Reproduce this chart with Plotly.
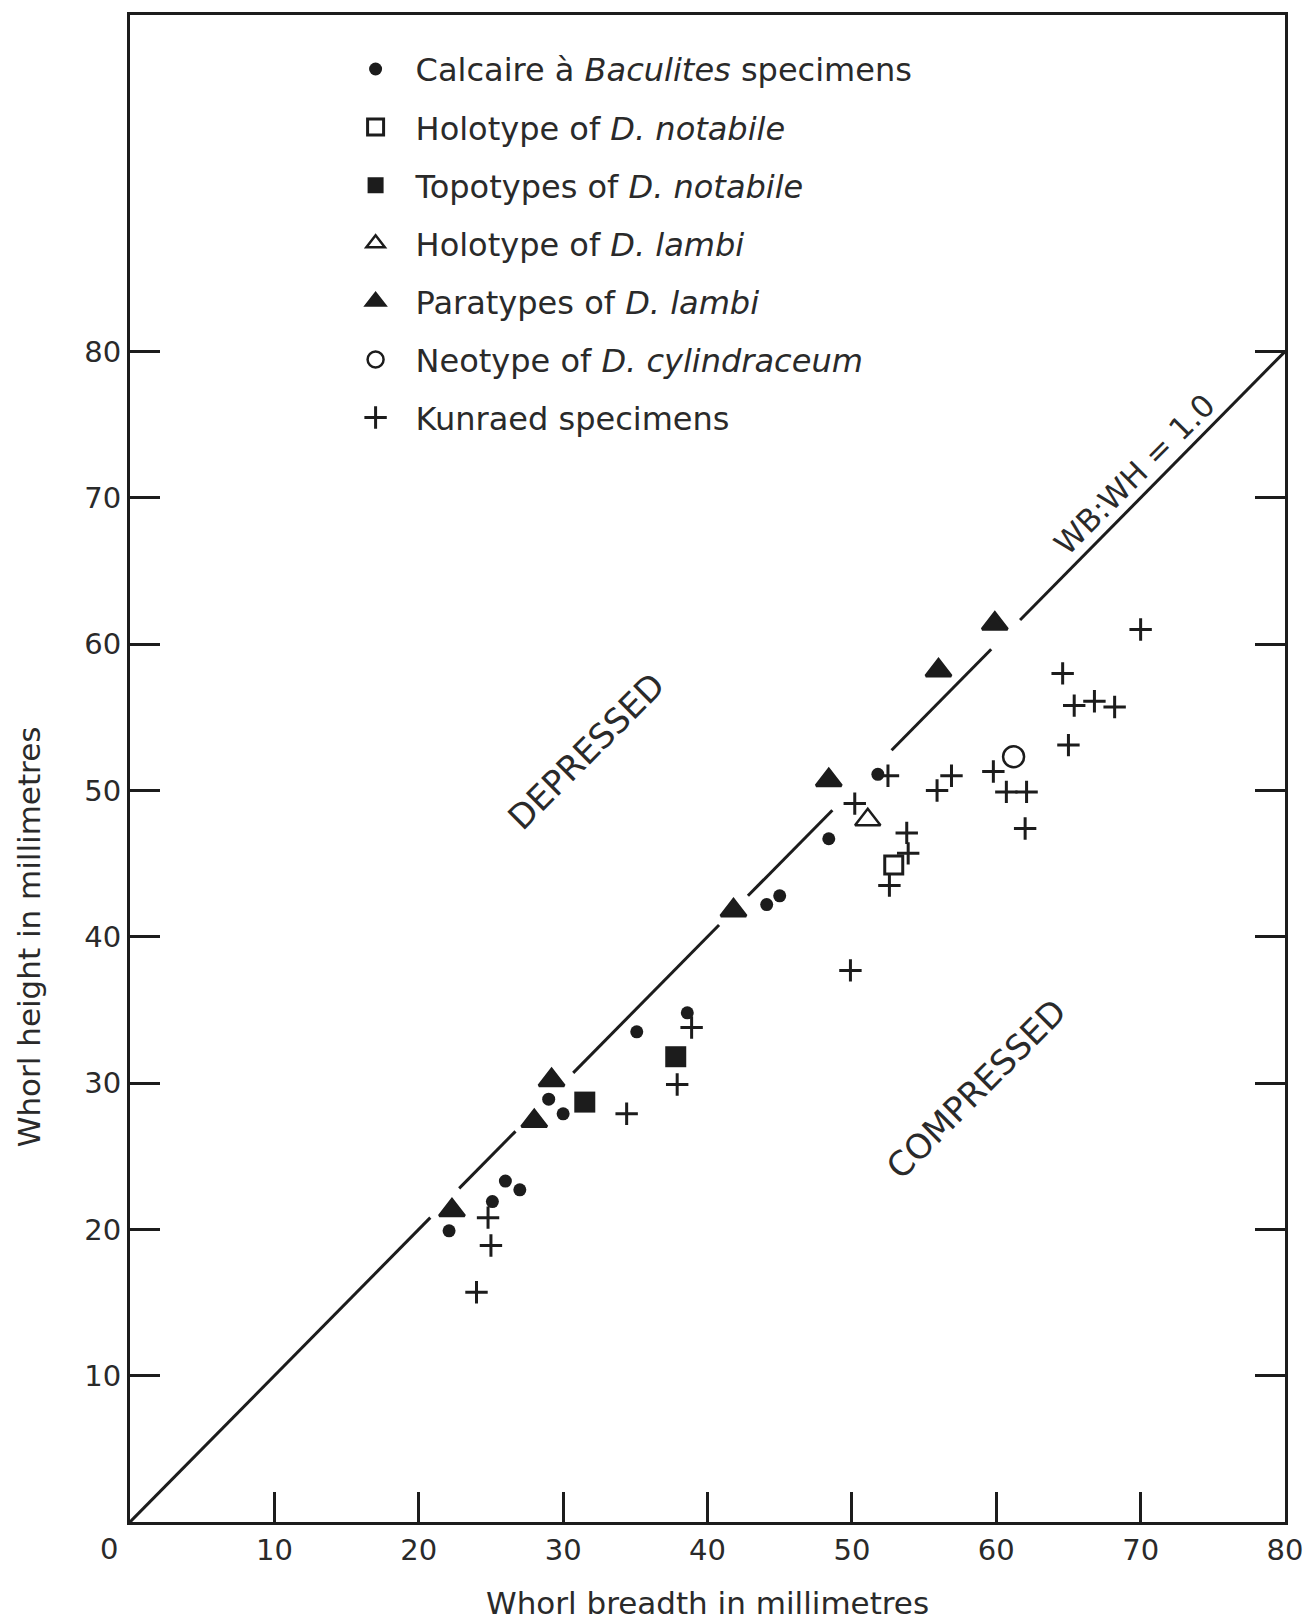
import plotly.graph_objects as go

# ---------------- data (whorl breadth x, whorl height y, mm) ----------------
calc_x = [22.1, 25.1, 26.0, 27.0, 29.0, 30.0, 35.1, 38.6, 44.1, 45.0, 48.4, 51.8]
calc_y = [19.9, 21.9, 23.3, 22.7, 28.9, 27.9, 33.5, 34.8, 42.2, 42.8, 46.7, 51.1]

holo_not_x = [52.9]
holo_not_y = [44.9]

topo_not_x = [31.5, 37.8]
topo_not_y = [28.7, 31.8]

holo_lam_x = [51.1]
holo_lam_y = [48.0]

para_lam_x = [22.3, 28.0, 29.2, 41.8, 48.4, 56.0, 59.9]
para_lam_y = [21.3, 27.4, 30.2, 41.8, 50.7, 58.2, 61.4]

neo_x = [61.2]
neo_y = [52.3]

kun_x = [24.0, 25.0, 24.8, 34.4, 37.9, 38.9, 49.9, 50.2, 52.5, 53.8, 53.9, 52.6,
         55.9, 56.9, 59.8, 60.7, 62.1, 62.0, 64.6, 65.4, 66.8, 68.2, 65.0, 70.0]
kun_y = [15.7, 18.9, 20.8, 27.9, 29.9, 33.8, 37.7, 49.1, 51.0, 47.1, 45.7, 43.5,
         50.0, 51.0, 51.3, 49.9, 49.9, 47.4, 58.0, 55.8, 56.1, 55.7, 53.1, 61.0]

x_ticks = [10, 20, 30, 40, 50, 60, 70, 80]
y_ticks = [10, 20, 30, 40, 50, 60, 70, 80]
ratio_max = 80  # WB:WH = 1.0 reference line runs 0..80

INK = "#1c1c1c"
TXT = "#2a2a2a"
FONT = "DejaVu Sans"

# ---------- reference line y = x, broken where symbols sit on it ----------
all_x = calc_x + para_lam_x + kun_x
all_y = calc_y + para_lam_y + kun_y
gaps = []
for px, py in zip(all_x, all_y):
    if abs(py - px) < 1.55:
        c = (px + py) / 2.0
        gaps.append([c - 1.0, c + 1.0])
gaps.sort()
merged = []
for g in gaps:
    if merged and g[0] <= merged[-1][1]:
        merged[-1][1] = max(merged[-1][1], g[1])
    else:
        merged.append(list(g))
line_x = []
start = 0
for g0, g1 in merged:
    line_x += [start, g0, None]
    start = g1
line_x += [start, ratio_max]
line_y = list(line_x)

fig = go.Figure()
fig.add_trace(go.Scatter(x=line_x, y=line_y, mode="lines",
                         line=dict(color=INK, width=3), showlegend=False,
                         hoverinfo="skip"))

def add(name, xs, ys, marker, grp):
    fig.add_trace(go.Scatter(x=xs, y=ys, mode="markers", name=name,
                             marker=marker, legendgroup=grp))

add("Calcaire à <i>Baculites</i> specimens", calc_x, calc_y,
    dict(symbol="circle", size=13, color=INK), "a")
add("Holotype of <i>D. notabile</i>", holo_not_x, holo_not_y,
    dict(symbol="square-open", size=18, color=INK, line=dict(width=3, color=INK)), "b")
add("Topotypes of <i>D. notabile</i>", topo_not_x, topo_not_y,
    dict(symbol="square", size=21, color=INK), "c")
add("Holotype of <i>D. lambi</i>", holo_lam_x, holo_lam_y,
    dict(symbol="triangle-up-open", size=22, color=INK, line=dict(width=2.5, color=INK)), "d")
add("Paratypes of <i>D. lambi</i>", para_lam_x, para_lam_y,
    dict(symbol="triangle-up", size=22, color=INK, line=dict(width=3, color=INK)), "e")
add("Neotype of <i>D. cylindraceum</i>", neo_x, neo_y,
    dict(symbol="circle-open", size=21, color=INK, line=dict(width=2.5, color=INK)), "f")
add("Kunraed specimens", kun_x, kun_y,
    dict(symbol="cross-thin", size=16, color=INK, line=dict(width=3, color=INK)), "g")

axis_common = dict(showgrid=False, zeroline=False, showline=True, linewidth=3,
                   linecolor=INK, ticks="inside", ticklen=30, tickwidth=2.5,
                   tickcolor=INK, tickfont=dict(family=FONT, size=29, color=TXT))

fig.update_xaxes(range=[0, 80], tickvals=x_ticks, mirror=True, **axis_common)
fig.update_yaxes(range=[0, 103.0], tickvals=y_ticks, mirror="ticks", **axis_common)

fig.update_layout(
    width=1315, height=1622,
    margin=dict(l=130, r=24, t=13, b=100),
    paper_bgcolor="white", plot_bgcolor="white",
    font=dict(family=FONT, size=31, color=TXT),
    legend=dict(x=0.178, y=0.9823, xanchor="left", yanchor="top",
                bgcolor="rgba(0,0,0,0)", borderwidth=0,
                itemwidth=70, tracegroupgap=13.5,
                font=dict(family=FONT, size=32, color=TXT)),
    annotations=[
        dict(text="Whorl breadth in millimetres", xref="paper", yref="paper",
             x=0.5, y=-0.054, xanchor="center", yanchor="middle",
             showarrow=False, font=dict(size=31)),
        dict(text="Whorl height in millimetres", xref="paper", yref="y",
             x=-0.0879, y=40, xanchor="center", yanchor="middle", textangle=-90,
             showarrow=False, font=dict(size=31)),
        dict(text="0", xref="x", yref="y", x=0, y=0, xshift=-21, yshift=-27,
             showarrow=False, font=dict(size=29)),
        dict(text="DEPRESSED", xref="x", yref="y", x=31.6, y=52.7, textangle=-45,
             showarrow=False, font=dict(size=34)),
        dict(text="COMPRESSED", xref="x", yref="y", x=58.6, y=29.6, textangle=-45,
             showarrow=False, font=dict(size=34)),
        dict(text="WB:WH = 1.0", xref="x", yref="y", x=69.6, y=71.6, textangle=-45,
             showarrow=False, font=dict(size=31)),
    ],
)

# remove the browser's default 8px body margin so the figure sits at the page origin
fig.write_html("out.html",
               config={"displayModeBar": False},
               post_script="document.body.style.margin='0';document.body.style.overflow='hidden';")
